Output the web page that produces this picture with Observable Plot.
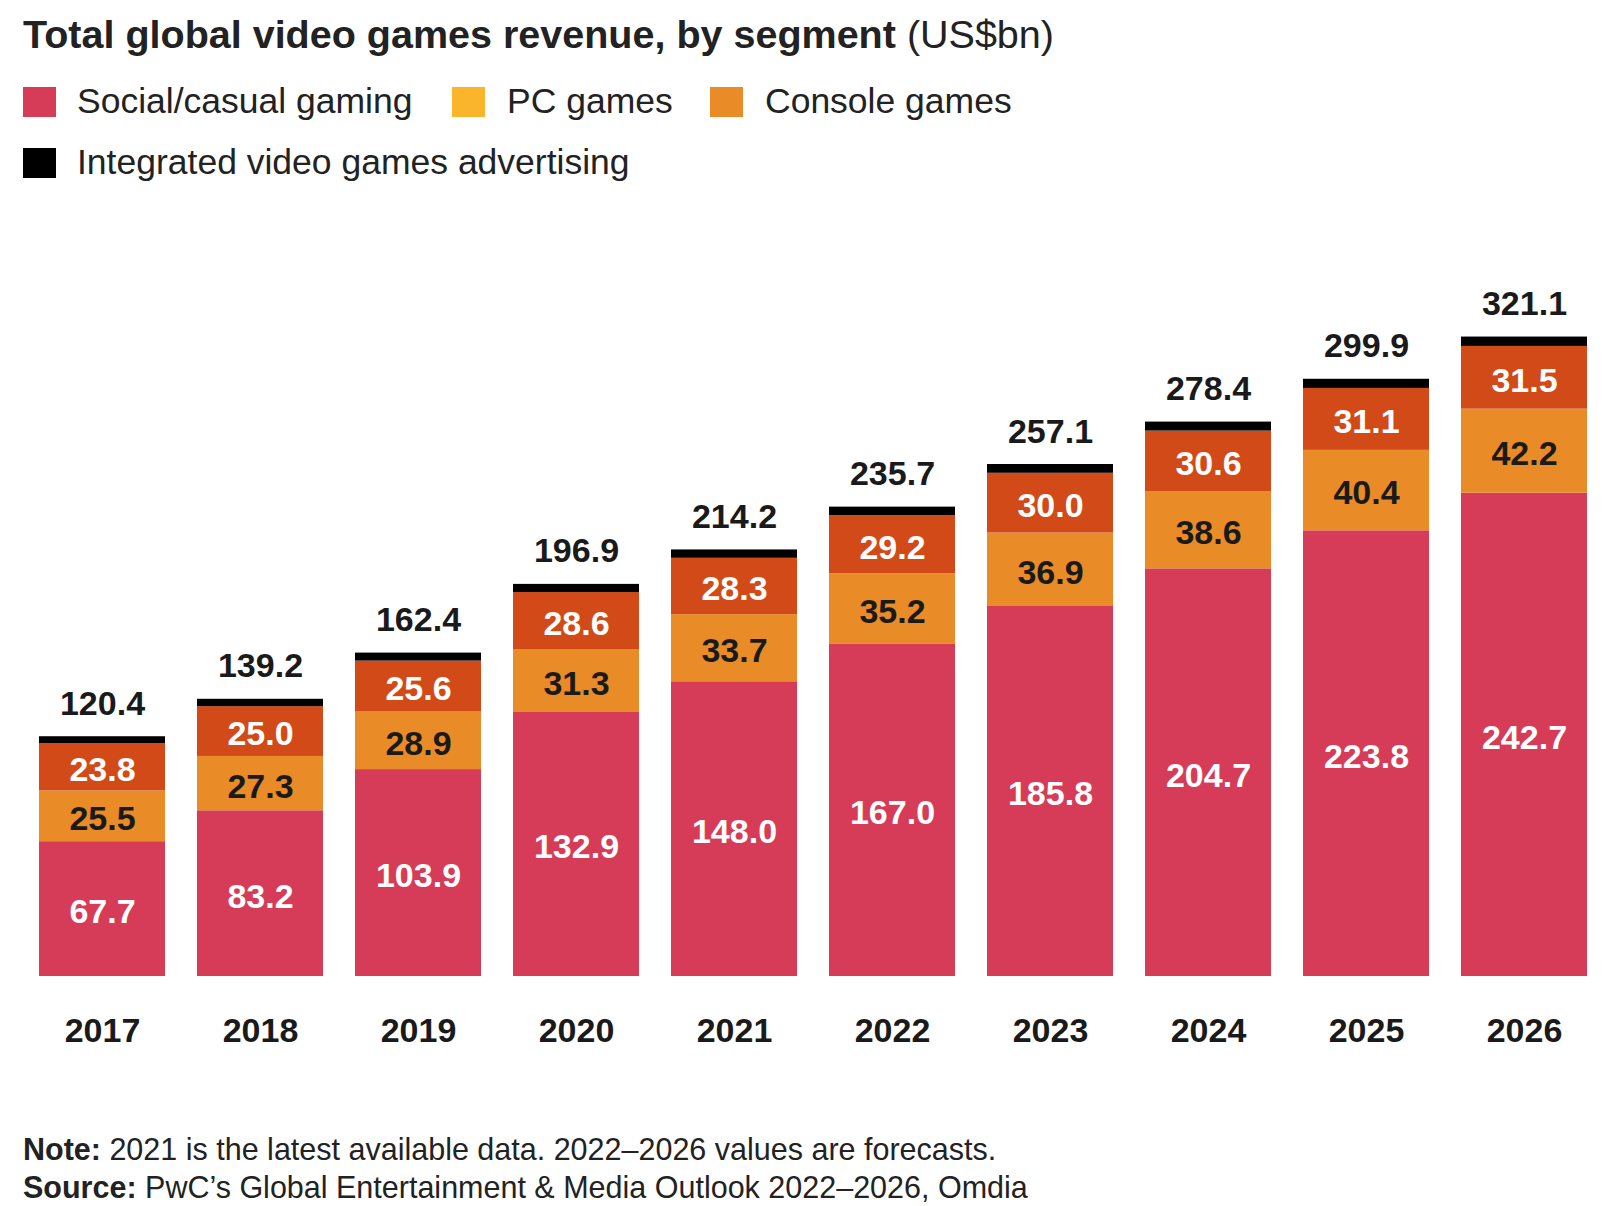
<!DOCTYPE html>
<html><head><meta charset="utf-8">
<script src="https://cdn.jsdelivr.net/npm/d3@7"></script>
<script src="https://cdn.jsdelivr.net/npm/@observablehq/plot@0.6"></script>
<style>
body{margin:0;background:#fff;font-family:"Liberation Sans",Arial,Helvetica,sans-serif;color:#222;}
#wrap{position:relative;width:1619px;height:1206px;overflow:hidden;background:#fff}
.abs{position:absolute;white-space:nowrap;line-height:1}
#title{left:23px;top:15px;font-size:39.5px;font-weight:bold}
#title span{font-weight:normal}
.lg{font-size:35.5px}
.sw{position:absolute;width:33px;height:30px}
.note{font-size:30.5px;left:23px}
#chart{position:absolute;left:0;top:190px}
#chart svg [aria-label="x-axis tick label"] text{font-weight:bold}
</style></head>
<body><div id="wrap">
<div id="title" class="abs">Total global video games revenue, by segment <span>(US$bn)</span></div>
<div id="legend"></div>
<div id="chart"></div>
<div class="abs note" style="top:1134px"><b>Note:</b> 2021 is the latest available data. 2022–2026 values are forecasts.</div>
<div class="abs note" style="top:1172px"><b>Source:</b> PwC’s Global Entertainment &amp; Media Outlook 2022–2026, Omdia</div>
</div>
<script>
const years = ["2017","2018","2019","2020","2021","2022","2023","2024","2025","2026"];
const social = [67.7,83.2,103.9,132.9,148.0,167.0,185.8,204.7,223.8,242.7];
const pc = [25.5,27.3,28.9,31.3,33.7,35.2,36.9,38.6,40.4,42.2];
const consoleGames = [23.8,25.0,25.6,28.6,28.3,29.2,30.0,30.6,31.1,31.5];
const advertising = [3.4,3.7,4.0,4.1,4.2,4.3,4.4,4.5,4.6,4.7];
const totals = [120.4,139.2,162.4,196.9,214.2,235.7,257.1,278.4,299.9,321.1];
const segments = ["Social/casual gaming","PC games","Console games","Integrated video games advertising"];
const barColors = ["#d63b57","#e98b27","#d14a18","#000000"];
const legendColors = ["#d63b57","#fbb52b","#e98b27","#000000"];

// legend (HTML)
const legendPos = [
  {sw:[23,87], tx:[77,84]},
  {sw:[452,87], tx:[507,84]},
  {sw:[710,87], tx:[765,84]},
  {sw:[23,148], tx:[77,145]}
];
const lg = document.getElementById("legend");
segments.forEach((s,i)=>{
  const p = legendPos[i];
  const sw = document.createElement("div");
  sw.className="sw"; sw.style.left=p.sw[0]+"px"; sw.style.top=p.sw[1]+"px"; sw.style.background=legendColors[i];
  lg.appendChild(sw);
  const t = document.createElement("div");
  t.className="abs lg"; t.style.left=p.tx[0]+"px"; t.style.top=p.tx[1]+"px"; t.textContent=s;
  lg.appendChild(t);
});

const series = [social, pc, consoleGames, advertising];
const rows = [];
years.forEach((yr,i)=>{
  let base = 0;
  series.forEach((arr,k)=>{
    rows.push({year:yr, segment:segments[k], value:arr[i], y1:base, y2:base+arr[i]});
    base += arr[i];
  });
});
const tops = years.map((yr,i)=>({year:yr, top:series.reduce((a,arr)=>a+arr[i],0), total:totals[i]}));
const mid = d => (d.y1+d.y2)/2;
const fmt = d => d.value.toFixed(1);

const chart = Plot.plot({
  width:1619, height:900,
  marginLeft:38, marginRight:31, marginTop:89, marginBottom:114,
  x:{domain:years, paddingInner:0.2, paddingOuter:0, label:null},
  y:{domain:[0,350], axis:null},
  color:{domain:segments, range:barColors},
  style:{fontFamily:'"Liberation Sans",Arial,Helvetica,sans-serif', background:"white", color:"#222"},
  marks:[
    Plot.barY(rows,{x:"year", y1:"y1", y2:"y2", fill:"segment"}),
    Plot.text(rows.filter(d=>d.segment===segments[0]||d.segment===segments[2]),
      {x:"year", y:mid, text:fmt, fill:"#fff", fontSize:34, fontWeight:"bold", dy:3}),
    Plot.text(rows.filter(d=>d.segment===segments[1]),
      {x:"year", y:mid, text:fmt, fill:"#1a1a1a", fontSize:34, fontWeight:"bold", dy:3}),
    Plot.text(tops,{x:"year", y:"top", text:d=>d.total.toFixed(1), lineAnchor:"bottom", dy:-22, fill:"#1a1a1a", fontSize:34, fontWeight:"bold"}),
    Plot.axisX({tickSize:0, tickPadding:41, fontSize:34, fontWeight:"bold", fill:"#1a1a1a", label:null})
  ]
});
document.getElementById("chart").appendChild(chart);
</script>
</body></html>
